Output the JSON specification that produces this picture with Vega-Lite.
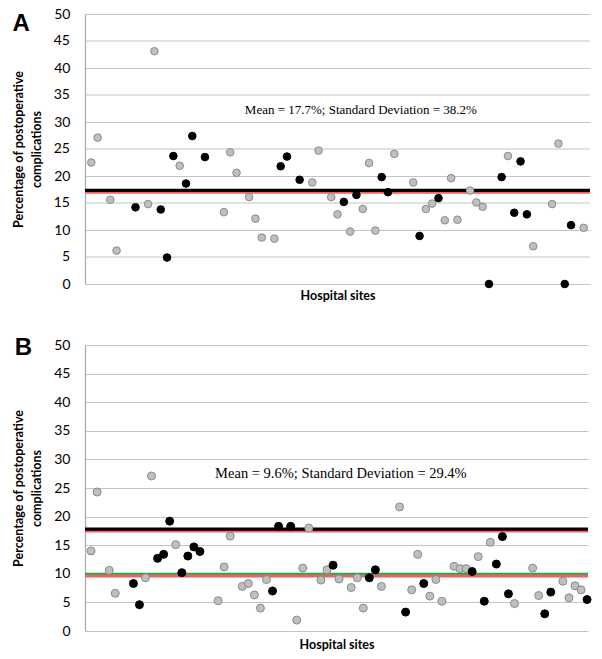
{
  "$schema": "https://vega.github.io/schema/vega-lite/v6.json",
  "background": "white",
  "padding": {"left": 12, "top": 7, "right": 5, "bottom": 5},
  "spacing": 34,
  "config": {
    "view": {"stroke": null},
    "axis": {
      "labelFont": "Lato", "labelFontSize": 14, "labelColor": "#000000",
      "titleFont": "Lato", "titleFontSize": 12.5, "titleFontWeight": "bold", "titleColor": "#000000",
      "gridColor": "#c4c4c4", "gridWidth": 1.2, "domainColor": "#a8a8a8", "domainWidth": 1.2, "tickSize": 0, "tickWidth": 0
    }
  },
  "datasets": {
    "midGrid": [
      {"level": 5}, {"level": 15}, {"level": 25}, {"level": 35}, {"level": 45}
    ],
    "sitesA": [
      {"site": 1, "pct": 22.5, "status": "other"},
      {"site": 2, "pct": 27.1, "status": "other"},
      {"site": 4, "pct": 15.6, "status": "other"},
      {"site": 5, "pct": 6.2, "status": "other"},
      {"site": 8, "pct": 14.2, "status": "flagged"},
      {"site": 10, "pct": 14.8, "status": "other"},
      {"site": 11, "pct": 43.1, "status": "other"},
      {"site": 12, "pct": 13.8, "status": "flagged"},
      {"site": 13, "pct": 4.9, "status": "flagged"},
      {"site": 14, "pct": 23.7, "status": "flagged"},
      {"site": 15, "pct": 21.9, "status": "other"},
      {"site": 16, "pct": 18.6, "status": "flagged"},
      {"site": 17, "pct": 27.4, "status": "flagged"},
      {"site": 19, "pct": 23.5, "status": "flagged"},
      {"site": 22, "pct": 13.3, "status": "other"},
      {"site": 23, "pct": 24.4, "status": "other"},
      {"site": 24, "pct": 20.6, "status": "other"},
      {"site": 26, "pct": 16.1, "status": "other"},
      {"site": 27, "pct": 12.1, "status": "other"},
      {"site": 28, "pct": 8.6, "status": "other"},
      {"site": 30, "pct": 8.4, "status": "other"},
      {"site": 31, "pct": 21.8, "status": "flagged"},
      {"site": 32, "pct": 23.6, "status": "flagged"},
      {"site": 34, "pct": 19.3, "status": "flagged"},
      {"site": 36, "pct": 18.8, "status": "other"},
      {"site": 37, "pct": 24.7, "status": "other"},
      {"site": 39, "pct": 16.1, "status": "other"},
      {"site": 40, "pct": 12.9, "status": "other"},
      {"site": 41, "pct": 15.2, "status": "flagged"},
      {"site": 42, "pct": 9.7, "status": "other"},
      {"site": 43, "pct": 16.5, "status": "flagged"},
      {"site": 44, "pct": 13.9, "status": "other"},
      {"site": 45, "pct": 22.4, "status": "other"},
      {"site": 46, "pct": 9.9, "status": "other"},
      {"site": 47, "pct": 19.8, "status": "flagged"},
      {"site": 48, "pct": 17.0, "status": "flagged"},
      {"site": 49, "pct": 24.1, "status": "other"},
      {"site": 52, "pct": 18.8, "status": "other"},
      {"site": 53, "pct": 8.9, "status": "flagged"},
      {"site": 54, "pct": 13.9, "status": "other"},
      {"site": 55, "pct": 14.9, "status": "other"},
      {"site": 56, "pct": 15.9, "status": "flagged"},
      {"site": 57, "pct": 11.8, "status": "other"},
      {"site": 58, "pct": 19.6, "status": "other"},
      {"site": 59, "pct": 11.9, "status": "other"},
      {"site": 61, "pct": 17.3, "status": "other"},
      {"site": 62, "pct": 15.1, "status": "other"},
      {"site": 63, "pct": 14.3, "status": "other"},
      {"site": 64, "pct": 0, "status": "flagged"},
      {"site": 66, "pct": 19.8, "status": "flagged"},
      {"site": 67, "pct": 23.7, "status": "other"},
      {"site": 68, "pct": 13.2, "status": "flagged"},
      {"site": 69, "pct": 22.7, "status": "flagged"},
      {"site": 70, "pct": 12.9, "status": "flagged"},
      {"site": 71, "pct": 7.0, "status": "other"},
      {"site": 74, "pct": 14.8, "status": "other"},
      {"site": 75, "pct": 26.0, "status": "other"},
      {"site": 76, "pct": 0, "status": "flagged"},
      {"site": 77, "pct": 10.9, "status": "flagged"},
      {"site": 79, "pct": 10.4, "status": "other"}
    ],
    "sitesB": [
      {"site": 1, "pct": 14.0, "status": "other"},
      {"site": 2, "pct": 24.3, "status": "other"},
      {"site": 4, "pct": 10.6, "status": "other"},
      {"site": 5, "pct": 6.6, "status": "other"},
      {"site": 8, "pct": 8.3, "status": "flagged"},
      {"site": 9, "pct": 4.6, "status": "flagged"},
      {"site": 10, "pct": 9.3, "status": "other"},
      {"site": 11, "pct": 27.1, "status": "other"},
      {"site": 12, "pct": 12.7, "status": "flagged"},
      {"site": 13, "pct": 13.4, "status": "flagged"},
      {"site": 14, "pct": 19.2, "status": "flagged"},
      {"site": 15, "pct": 15.1, "status": "other"},
      {"site": 16, "pct": 10.2, "status": "flagged"},
      {"site": 17, "pct": 13.1, "status": "flagged"},
      {"site": 18, "pct": 14.7, "status": "flagged"},
      {"site": 19, "pct": 13.9, "status": "flagged"},
      {"site": 22, "pct": 5.3, "status": "other"},
      {"site": 23, "pct": 11.2, "status": "other"},
      {"site": 24, "pct": 16.6, "status": "other"},
      {"site": 26, "pct": 7.8, "status": "other"},
      {"site": 27, "pct": 8.3, "status": "other"},
      {"site": 28, "pct": 6.3, "status": "other"},
      {"site": 29, "pct": 4.0, "status": "other"},
      {"site": 30, "pct": 9.0, "status": "other"},
      {"site": 31, "pct": 7.0, "status": "flagged"},
      {"site": 32, "pct": 18.3, "status": "flagged"},
      {"site": 34, "pct": 18.3, "status": "flagged"},
      {"site": 35, "pct": 1.9, "status": "other"},
      {"site": 36, "pct": 11.0, "status": "other"},
      {"site": 37, "pct": 18.0, "status": "other"},
      {"site": 39, "pct": 8.9, "status": "other"},
      {"site": 40, "pct": 10.7, "status": "other"},
      {"site": 41, "pct": 11.5, "status": "flagged"},
      {"site": 42, "pct": 9.1, "status": "other"},
      {"site": 44, "pct": 7.6, "status": "other"},
      {"site": 45, "pct": 9.3, "status": "other"},
      {"site": 46, "pct": 4.0, "status": "other"},
      {"site": 47, "pct": 9.3, "status": "flagged"},
      {"site": 48, "pct": 10.7, "status": "flagged"},
      {"site": 49, "pct": 7.8, "status": "other"},
      {"site": 52, "pct": 21.7, "status": "other"},
      {"site": 53, "pct": 3.3, "status": "flagged"},
      {"site": 54, "pct": 7.2, "status": "other"},
      {"site": 55, "pct": 13.4, "status": "other"},
      {"site": 56, "pct": 8.3, "status": "flagged"},
      {"site": 57, "pct": 6.1, "status": "other"},
      {"site": 58, "pct": 9.0, "status": "other"},
      {"site": 59, "pct": 5.2, "status": "other"},
      {"site": 61, "pct": 11.3, "status": "other"},
      {"site": 62, "pct": 10.9, "status": "other"},
      {"site": 63, "pct": 10.9, "status": "other"},
      {"site": 64, "pct": 10.4, "status": "flagged"},
      {"site": 65, "pct": 13.0, "status": "other"},
      {"site": 66, "pct": 5.2, "status": "flagged"},
      {"site": 67, "pct": 15.5, "status": "other"},
      {"site": 68, "pct": 11.7, "status": "flagged"},
      {"site": 69, "pct": 16.5, "status": "flagged"},
      {"site": 70, "pct": 6.5, "status": "flagged"},
      {"site": 71, "pct": 4.8, "status": "other"},
      {"site": 74, "pct": 11.0, "status": "other"},
      {"site": 75, "pct": 6.2, "status": "other"},
      {"site": 76, "pct": 3.0, "status": "flagged"},
      {"site": 77, "pct": 6.8, "status": "flagged"},
      {"site": 79, "pct": 8.7, "status": "other"},
      {"site": 80, "pct": 5.8, "status": "other"},
      {"site": 81, "pct": 7.9, "status": "other"},
      {"site": 82, "pct": 7.2, "status": "other"},
      {"site": 83, "pct": 5.5, "status": "flagged"}
    ],
    "linesA": [
      {"line": "red", "pct": 16.95},
      {"line": "black", "pct": 17.35}
    ],
    "linesB": [
      {"line": "red", "pct": 17.45},
      {"line": "black", "pct": 17.8},
      {"line": "red", "pct": 9.6},
      {"line": "green", "pct": 10.0}
    ],
    "noteA": [
      {"panel": "A", "note": "Mean = 17.7%; Standard Deviation = 38.2%"}
    ],
    "noteB": [
      {"panel": "B", "note": "Mean = 9.6%; Standard Deviation = 29.4%"}
    ]
  },
  "vconcat": [
    {
      "width": 505,
      "height": 270,
      "layer": [
        {
          "data": {"name": "midGrid"},
          "mark": {"type": "rule", "color": "#c4c4c4", "strokeWidth": 1.2},
          "encoding": {
            "y": {"field": "level", "type": "quantitative", "scale": {"domain": [0, 50], "nice": false},
              "axis": {"grid": true, "labelPadding": 15, "titlePadding": 10, "titleLineHeight": 18,
                "title": ["Percentage of postoperative", "complications"]}}
          }
        },
        {
          "data": {"name": "midGrid"},
          "mark": {"type": "text", "font": "Lato", "fontSize": 14, "color": "#000000", "align": "right", "baseline": "middle"},
          "encoding": {
            "x": {"datum": -2.376, "type": "quantitative", "scale": {"domain": [0, 80], "nice": false}},
            "y": {"field": "level", "type": "quantitative"},
            "text": {"field": "level", "type": "quantitative"}
          }
        },
        {
          "data": {"name": "linesA"},
          "mark": {"type": "rule"},
          "encoding": {
            "y": {"field": "pct", "type": "quantitative"},
            "color": {"field": "line", "type": "nominal", "legend": null, "scale": {"domain": ["black", "red", "green"], "range": ["#000000", "#ff5a5a", "#1fa64a"]}},
            "strokeWidth": {"field": "line", "type": "nominal", "legend": null, "scale": {"domain": ["black", "red", "green"], "range": [3.2, 2, 3]}}
          }
        },
        {
          "data": {"name": "sitesA"},
          "mark": {"type": "circle", "size": 58, "strokeWidth": 1, "opacity": 1},
          "encoding": {
            "x": {"field": "site", "type": "quantitative",
              "axis": {"title": "Hospital sites", "labels": false, "grid": false, "domain": false, "titlePadding": 5}},
            "y": {"field": "pct", "type": "quantitative"},
            "fill": {"field": "status", "type": "nominal", "legend": null, "scale": {"domain": ["other", "flagged"], "range": ["#bfbfbf", "#000000"]}},
            "stroke": {"field": "status", "type": "nominal", "legend": null, "scale": {"domain": ["other", "flagged"], "range": ["#8a8a8a", "#000000"]}}
          }
        },
        {
          "data": {"name": "noteA"},
          "mark": {"type": "text", "font": "Liberation Serif", "fontSize": 13, "color": "#000000"},
          "encoding": {
            "x": {"datum": 43.7, "type": "quantitative"},
            "y": {"datum": 32.2, "type": "quantitative"},
            "text": {"field": "note", "type": "nominal"}
          }
        },
        {
          "data": {"name": "noteA"},
          "mark": {"type": "text", "font": "Liberation Sans", "fontSize": 24, "fontWeight": "bold", "color": "#000000", "align": "center", "baseline": "middle"},
          "encoding": {
            "x": {"datum": -10.1, "type": "quantitative"},
            "y": {"datum": 48.2, "type": "quantitative"},
            "text": {"field": "panel", "type": "nominal"}
          }
        }
      ]
    },
    {
      "width": 503,
      "height": 286,
      "layer": [
        {
          "data": {"name": "linesB"},
          "mark": {"type": "rule"},
          "encoding": {
            "y": {"field": "pct", "type": "quantitative", "scale": {"domain": [0, 50], "nice": false},
              "axis": {"grid": true, "labelPadding": 15, "titlePadding": 10, "titleLineHeight": 18,
                "title": ["Percentage of postoperative", "complications"]}},
            "color": {"field": "line", "type": "nominal", "legend": null, "scale": {"domain": ["black", "red", "green"], "range": ["#000000", "#ff5a5a", "#1fa64a"]}},
            "strokeWidth": {"field": "line", "type": "nominal", "legend": null, "scale": {"domain": ["black", "red", "green"], "range": [3.2, 2, 3]}}
          }
        },
        {
          "data": {"name": "sitesB"},
          "mark": {"type": "circle", "size": 64, "strokeWidth": 1, "opacity": 1},
          "encoding": {
            "x": {"field": "site", "type": "quantitative", "scale": {"domain": [0, 83.15], "nice": false},
              "axis": {"title": "Hospital sites", "labels": false, "grid": false, "domain": false, "titlePadding": 7}},
            "y": {"field": "pct", "type": "quantitative"},
            "fill": {"field": "status", "type": "nominal", "legend": null, "scale": {"domain": ["other", "flagged"], "range": ["#bfbfbf", "#000000"]}},
            "stroke": {"field": "status", "type": "nominal", "legend": null, "scale": {"domain": ["other", "flagged"], "range": ["#8a8a8a", "#000000"]}}
          }
        },
        {
          "data": {"name": "noteB"},
          "mark": {"type": "text", "font": "Liberation Serif", "fontSize": 14.5, "color": "#000000"},
          "encoding": {
            "x": {"datum": 42.3, "type": "quantitative"},
            "y": {"datum": 27.4, "type": "quantitative"},
            "text": {"field": "note", "type": "nominal"}
          }
        },
        {
          "data": {"name": "noteB"},
          "mark": {"type": "text", "font": "Liberation Sans", "fontSize": 24, "fontWeight": "bold", "color": "#000000", "align": "center", "baseline": "middle"},
          "encoding": {
            "x": {"datum": -10.2, "type": "quantitative"},
            "y": {"datum": 49.4, "type": "quantitative"},
            "text": {"field": "panel", "type": "nominal"}
          }
        }
      ]
    }
  ]
}
